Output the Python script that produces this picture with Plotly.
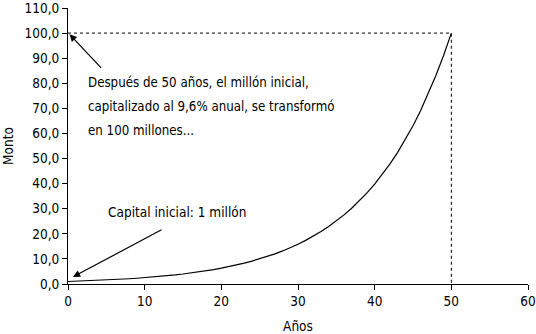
import plotly.graph_objects as go

years = list(range(0, 51))
monto = [1.00, 1.10, 1.20, 1.32, 1.45, 1.58, 1.74, 1.91, 2.09, 2.29,
         2.51, 2.75, 3.02, 3.31, 3.63, 3.98, 4.37, 4.79, 5.25, 5.75,
         6.31, 6.92, 7.59, 8.32, 9.12, 10.00, 10.96, 12.02, 13.18, 14.45,
         15.85, 17.38, 19.05, 20.89, 22.91, 25.12, 27.54, 30.20, 33.11, 36.31,
         39.81, 43.65, 47.86, 52.48, 57.54, 63.10, 69.18, 75.86, 83.18, 91.20,
         100.00]

final_year = 50
final_value = 100.0

FONT = "DejaVu Sans Condensed"

fig = go.Figure()
fig.add_trace(go.Scatter(x=years, y=monto, mode="lines",
                         line=dict(color="black", width=1.2), showlegend=False,
                         hoverinfo="skip"))
# dotted guides
fig.add_trace(go.Scatter(x=[0, final_year, final_year], y=[final_value, final_value, 0],
                         mode="lines", line=dict(color="black", width=1, dash="dot"),
                         showlegend=False, hoverinfo="skip"))

ann_lines = ["Después de 50 años, el millón inicial,",
             "capitalizado al 9,6% anual, se transformó",
             "en 100 millones..."]
annotations = []
for i, t in enumerate(ann_lines):
    annotations.append(dict(x=0, y=0, xref="paper", yref="paper", text=t,
                            showarrow=False, xanchor="left", yanchor="middle",
                            xshift=18, yshift=(284 - 82) - i * 24,
                            font=dict(family=FONT, size=13.2, color="black")))
annotations.append(dict(x=0, y=0, xref="paper", yref="paper", text="Capital inicial: 1 millón",
                        showarrow=False, xanchor="left", yanchor="middle",
                        xshift=38, yshift=284 - 212,
                        font=dict(family=FONT, size=13.5, color="black")))
# arrows
annotations.append(dict(x=0.2, y=99.5, xref="x", yref="y", text="", showarrow=True,
                        arrowhead=2, arrowsize=1.2, arrowwidth=1.2, arrowcolor="black",
                        ax=33, ay=35))
annotations.append(dict(x=0.65, y=2.8, xref="x", yref="y", text="", showarrow=True,
                        arrowhead=2, arrowsize=1.2, arrowwidth=1.2, arrowcolor="black",
                        ax=90, ay=-48))

fig.update_layout(
    width=536, height=334,
    margin=dict(l=68, r=8, t=8, b=50),
    plot_bgcolor="white", paper_bgcolor="white",
    separators=",.",
    font=dict(family=FONT, size=13.5, color="black"),
    annotations=annotations,
    xaxis=dict(range=[0, 60], dtick=10, showgrid=False, zeroline=False,
               showline=True, linecolor="black", linewidth=1, automargin=False,
               ticks="outside", ticklen=5, tickcolor="black",
               tickfont=dict(size=13.5), ticklabeloverflow="allow",
               title=dict(text="Años", standoff=13, font=dict(size=13.5))),
    yaxis=dict(range=[0, 110], dtick=10, tickformat=".1f", showgrid=False, zeroline=False,
               showline=True, linecolor="black", linewidth=1, automargin=False,
               ticks="outside", ticklen=5, tickcolor="black",
               tickfont=dict(size=13.5), ticklabeloverflow="allow",
               title=dict(text="Monto", standoff=8, font=dict(size=13.5))),
)

fig.write_html("out.html")
